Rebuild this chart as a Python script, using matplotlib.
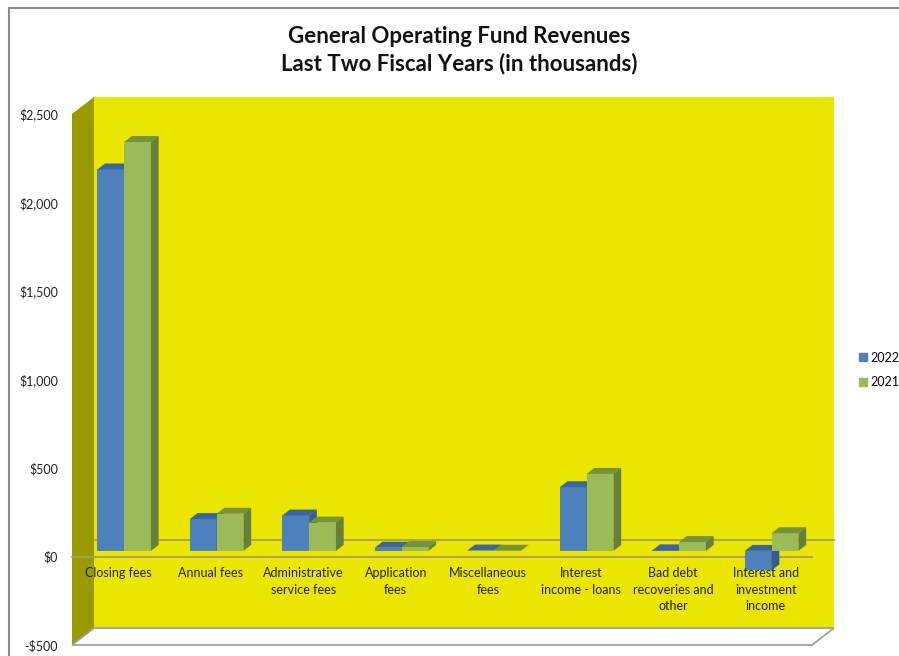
import matplotlib
matplotlib.use("Agg")
import matplotlib.pyplot as plt
from matplotlib.patches import Polygon, Rectangle, Patch

plt.rcParams['font.family'] = ['Lato', 'DejaVu Sans']

categories = ["Closing fees", "Annual fees", "Administrative\nservice fees",
              "Application\nfees", "Miscellaneous\nfees", "Interest\nincome - loans",
              "Bad debt\nrecoveries and\nother", "Interest and\ninvestment\nincome"]
rev_2022 = [2155, 180, 200, 18, 2, 360, 3, -110]
rev_2021 = [2310, 210, 160, 22, 1, 435, 50, 100]
yticks = [-500, 0, 500, 1000, 1500, 2000, 2500]

# colours: front, top, side
blue = ("#4F81BD", "#3B669C", "#385D8A")
green = ("#9BBB59", "#76923C", "#667F3A")

# depth of the box (back wall offset) in data units
DX, DY = 0.238, 96
# bars sit between these fractions of the depth
F0, F1 = 0.33, 0.68
BW = 0.29

fig = plt.figure(figsize=(8.99, 6.56), dpi=100)
ax = fig.add_axes([72 / 899, 11 / 656, 740 / 899, 531 / 656])
ax.set_xlim(-0.5, 7.5)
ax.set_ylim(-500, 2500)
for s in ax.spines.values():
    s.set_visible(False)
ax.set_xticks([])
ax.set_yticks(yticks)
ax.set_yticklabels(["-$500" if v < 0 else "${:,}".format(v) for v in yticks])
ax.tick_params(axis='y', length=0, pad=10, labelsize=9, labelcolor="#222222")
ax.patch.set_visible(False)


def poly(pts, fc, ec="none", lw=0, z=1):
    ax.add_patch(Polygon(pts, closed=True, facecolor=fc, edgecolor=ec,
                         linewidth=lw, zorder=z, clip_on=False))


x0, x1 = -0.5, 7.5
y0, y1 = -500, 2500
# back wall, left wall and floor
poly([(x0 + DX, y0 + DY), (x1 + DX, y0 + DY), (x1 + DX, y1 + DY), (x0 + DX, y1 + DY)], "#EAE600", z=1)
poly([(x0, y0), (x0, y1), (x0 + DX, y1 + DY), (x0 + DX, y0 + DY)], "#999900", z=2)
poly([(x0, y0), (x1, y0), (x1 + DX, y0 + DY), (x0 + DX, y0 + DY)], "white", ec="#A0A0A0", lw=1.3, z=2)

# zero lines on the back wall and along the front
ax.plot([x0 + DX, x1 + DX], [DY, DY], color="#A3A25A", lw=1.3, zorder=3, clip_on=False)
ax.plot([x0, x1], [0, 0], color="#A3A25A", lw=1.3, zorder=3, clip_on=False)


def bar3d(xl, v, cols, z):
    ox, oy = F0 * DX, F0 * DY
    ddx, ddy = (F1 - F0) * DX, (F1 - F0) * DY
    xa, xb = xl + ox, xl + BW + ox
    lo, hi = min(0, v) + oy, max(0, v) + oy
    poly([(xa, lo), (xb, lo), (xb, hi), (xa, hi)], cols[0], z=z)
    poly([(xa, hi), (xb, hi), (xb + ddx, hi + ddy), (xa + ddx, hi + ddy)], cols[1], z=z)
    poly([(xb, lo), (xb, hi), (xb + ddx, hi + ddy), (xb + ddx, lo + ddy)], cols[2], z=z)


z = 4
for i in range(len(categories)):
    bar3d(i - 0.305, rev_2022[i], blue, z)
    bar3d(i - 0.015, rev_2021[i], green, z + 1)
    z += 2
    ax.text(i, -62, categories[i], ha="center", va="top", fontsize=9,
            color="#222222", linespacing=1.42, zorder=30)

fig.text(459 / 899, 1 - 50 / 656, "General Operating Fund Revenues\nLast Two Fiscal Years (in thousands)",
         ha="center", va="center", fontsize=16, fontweight="bold", color="#111111", linespacing=1.35)

fig.legend(handles=[Patch(color=blue[0], label="2022"), Patch(color=green[0], label="2021")],
           loc="center left", bbox_to_anchor=(859 / 899, 1 - 370 / 656), frameon=False,
           borderpad=0, borderaxespad=0, fontsize=9, handlelength=0.6, handleheight=0.6,
           handletextpad=0.35, labelspacing=1.0)

# chart area border
fig.patches.append(Rectangle((9 / 899, -0.1), 1.0, 1 - 8 / 656 + 0.1, transform=fig.transFigure,
                             fill=False, edgecolor="#8C8C8C", linewidth=1.5))

fig.savefig("out.png", dpi=100)
